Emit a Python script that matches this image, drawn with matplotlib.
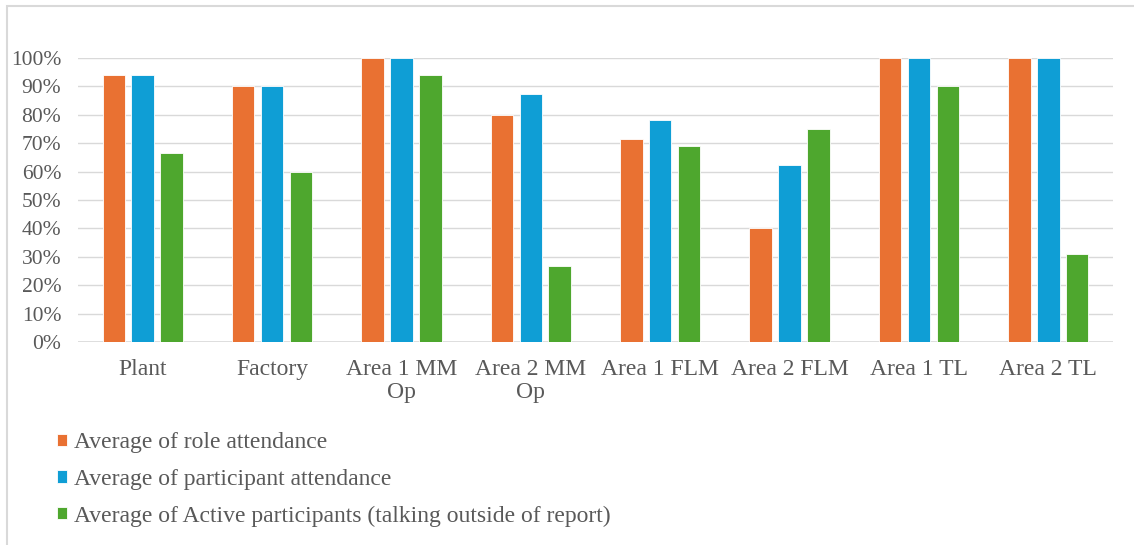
import numpy as np
import matplotlib
matplotlib.use('Agg')
import matplotlib.pyplot as plt
from matplotlib.patches import Rectangle
from matplotlib.ticker import PercentFormatter

categories = ['Plant', 'Factory', 'Area 1 MM\nOp', 'Area 2 MM\nOp',
              'Area 1 FLM', 'Area 2 FLM', 'Area 1 TL', 'Area 2 TL']
role_attendance = [0.94, 0.90, 1.00, 0.80, 0.714, 0.40, 1.00, 1.00]
participant_attendance = [0.94, 0.90, 1.00, 0.875, 0.78, 0.625, 1.00, 1.00]
active_participants = [0.667, 0.60, 0.94, 0.267, 0.69, 0.75, 0.90, 0.31]
series_names = ['Average of role attendance',
                'Average of participant attendance',
                'Average of Active participants (talking outside of report)']

colors = ['#E97132', '#0F9ED5', '#4EA72E']
text_color = '#595959'
plt.rcParams['font.family'] = ['Liberation Serif', 'DejaVu Serif']

fig = plt.figure(figsize=(11.34, 5.45), dpi=100)
W, H = 1134, 545
ax = fig.add_axes([78 / W, 1 - 342 / H, (1113 - 78) / W, (342 - 58) / H])

x = np.arange(len(categories))
width = 0.174
step = 0.223
for i, vals in enumerate([role_attendance, participant_attendance, active_participants]):
    ax.bar(x + (i - 1) * step, vals, width, color=colors[i],
           edgecolor='white', linewidth=0.6, label=series_names[i], zorder=3)

ax.set_xlim(-0.5, len(categories) - 0.5)
ax.set_ylim(0, 1.0)
ax.set_yticks(np.arange(0, 1.01, 0.1))
ax.yaxis.set_major_formatter(PercentFormatter(1.0, decimals=0))
ax.grid(axis='y', color='#d9d9d9', linewidth=1.0, zorder=0)
ax.set_xticks(x)
ax.set_xticklabels(categories, fontsize=17, color=text_color, linespacing=1.16)
ax.tick_params(axis='y', labelsize=15.5, labelcolor=text_color, length=0, pad=12)
ax.tick_params(axis='x', length=0, pad=12)
for s in ax.spines.values():
    s.set_visible(False)
ax.axhline(0, color='#d9d9d9', linewidth=1.2, zorder=2)

# legend stacked below the plot
handles, labels = ax.get_legend_handles_labels()
fig.legend(handles, labels, loc='upper left', bbox_to_anchor=(36 / W, 1 - 411 / H),
           frameon=False, fontsize=17, labelcolor=text_color, handlelength=0.42,
           handleheight=0.42, handletextpad=0.3, labelspacing=0.66)

# chart area border
fig.patches.append(Rectangle((7 / W, -0.05), 1.2, 1 - 6 / H + 0.05, transform=fig.transFigure,
                             fill=False, edgecolor='#d9d9d9', linewidth=1.5))

fig.savefig('out.png', dpi=100)
